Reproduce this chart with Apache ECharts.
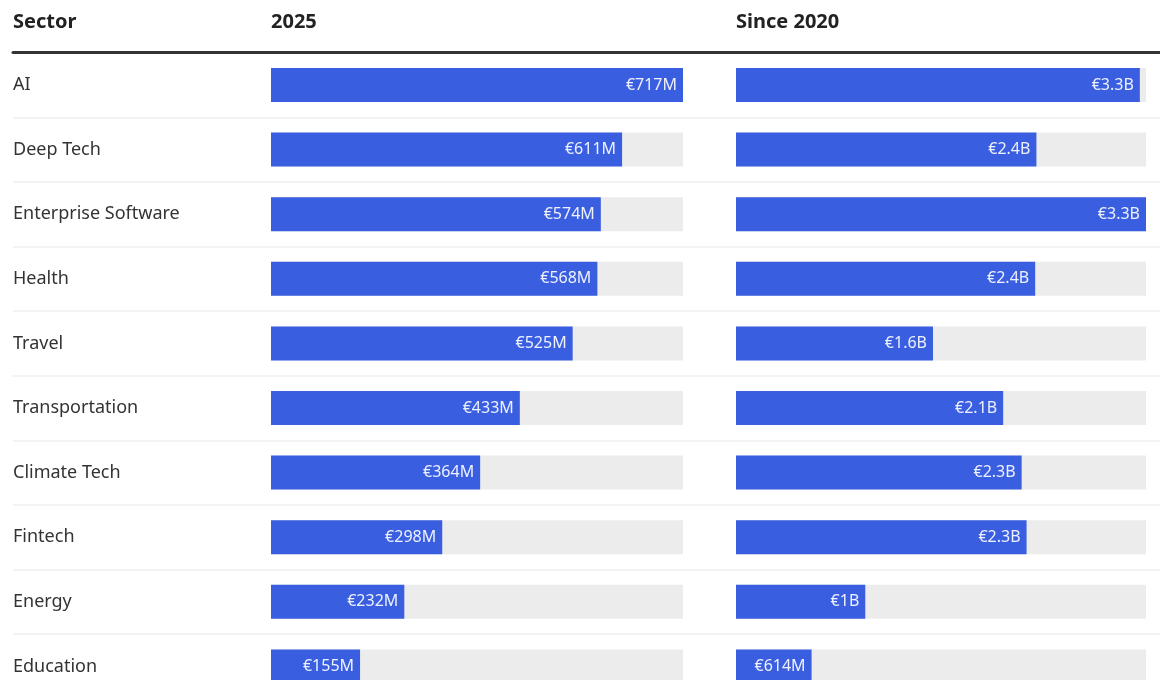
<!DOCTYPE html>
<html><head><meta charset="utf-8">
<script src="https://cdn.jsdelivr.net/npm/echarts@6/dist/echarts.min.js"></script>
<style>html,body{margin:0;padding:0;background:#fff}#c{width:1160px;height:680px}</style>
</head><body><div id="c"></div>
<script>
const sectors = ['AI','Deep Tech','Enterprise Software','Health','Travel','Transportation','Climate Tech','Fintech','Energy','Education'];
const values2025 = [717,611,574,568,525,433,364,298,232,155];            // € millions
const labels2025 = ['€717M','€611M','€574M','€568M','€525M','€433M','€364M','€298M','€232M','€155M'];
const valuesSince2020 = [3280,2440,3330,2430,1600,2170,2320,2360,1050,614]; // € millions
const labelsSince2020 = ['€3.3B','€2.4B','€3.3B','€2.4B','€1.6B','€2.1B','€2.3B','€2.3B','€1B','€614M'];
const headers = ['Sector','2025','Since 2020'];

const FONT = 'Noto Sans';
const chart = echarts.init(document.getElementById('c'));
const rowTop = 52.7, rowH = 64.6;
const gridTop = rowTop, gridHeight = rowH * sectors.length;
const BLUE = '#3a5ee0';
function barSeries(idx, vals, labs) {
  return {
    type: 'bar', xAxisIndex: idx, yAxisIndex: idx, data: vals, barWidth: 34,
    itemStyle: { color: BLUE },
    showBackground: true, backgroundStyle: { color: '#ececec' },
    label: { show: true, position: 'insideRight', distance: 6, color: '#eef1ff',
      fontFamily: FONT, fontSize: 16, formatter: p => labs[p.dataIndex] },
    silent: true, animation: false
  };
}
const gridCommon = { top: gridTop, height: gridHeight, outerBoundsMode: 'none', containLabel: false };
chart.setOption({
  animation: false,
  title: [
    { text: headers[0], left: 13, top: 12 },
    { text: headers[1], left: 271, top: 12 },
    { text: headers[2], left: 736, top: 12 }
  ].map(t => Object.assign(t, { padding: 0, textStyle: { fontFamily: FONT, fontWeight: 'bold', fontSize: 20, color: '#222' } })),
  grid: [
    Object.assign({ left: 13, right: 0 }, gridCommon),
    Object.assign({ left: 271, width: 412 }, gridCommon),
    Object.assign({ left: 736, width: 410 }, gridCommon)
  ],
  xAxis: [
    { gridIndex: 0, type: 'value', position: 'top', min: 0, max: 1,
      axisLine: { show: true, onZero: false, lineStyle: { color: '#333', width: 3 } },
      axisTick: { show: false }, axisLabel: { show: false }, splitLine: { show: false } },
    { gridIndex: 1, type: 'value', min: 0, max: 717, show: false },
    { gridIndex: 2, type: 'value', min: 0, max: 3330, show: false }
  ],
  yAxis: [
    { gridIndex: 0, type: 'category', data: sectors, inverse: true,
      axisLine: { show: false }, axisTick: { show: false }, axisLabel: { show: false },
      splitLine: { show: true, lineStyle: { color: '#efefef', width: 1.5 } } },
    { gridIndex: 1, type: 'category', data: sectors, inverse: true,
      axisLine: { show: false }, axisTick: { show: false },
      axisLabel: { align: 'left', margin: 258, padding: [3, 0, 0, 0], fontFamily: FONT, fontSize: 18, color: '#333' } },
    { gridIndex: 2, type: 'category', data: sectors, inverse: true, show: false }
  ],
  series: [
    barSeries(1, values2025, labels2025),
    barSeries(2, valuesSince2020, labelsSince2020)
  ]
});
</script></body></html>
